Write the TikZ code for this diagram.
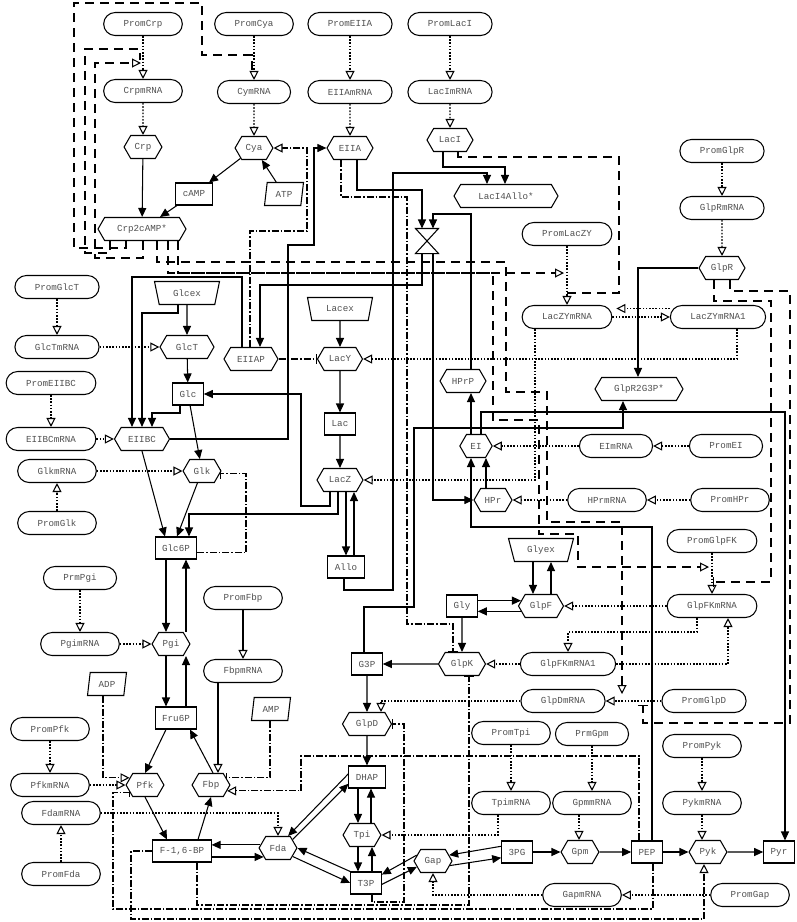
\documentclass[tikz,border=0pt]{standalone}
\usepackage{fontspec}
\newfontfamily\monof{Liberation Mono}
\usetikzlibrary{shapes.geometric,shapes.symbols,arrows.meta}
\pgfdeclarelayer{bg}
\pgfsetlayers{bg,main}
\definecolor{txt}{RGB}{80,80,80}
\begin{document}
\begin{tikzpicture}[x=1pt,y=-1pt,
  every node/.style={font=\monof\fontsize{9.2}{11}\selectfont, text=txt, line width=1.05pt, fill=white, draw=black},
  stad/.style={rectangle, rounded corners=11.5pt, minimum height=23pt, inner xsep=20pt, inner ysep=0pt},
  prot/.style={signal, signal to=east and west, signal pointer angle=120, minimum height=23pt, inner xsep=4pt, inner ysep=0pt},
  metab/.style={rectangle, minimum height=22pt, inner xsep=7pt, inner ysep=0pt},
  extr/.style={trapezium, shape border rotate=180, trapezium angle=55, trapezium stretches body, minimum height=23pt, minimum width=65pt, inner sep=0pt},
  para/.style={trapezium, trapezium left angle=66, trapezium right angle=114, trapezium stretches body, minimum height=23pt, minimum width=39pt, inner sep=0pt},
  rx/.style={line width=1.05pt, -{Triangle[length=9pt,width=8pt]}},
  ex/.style={line width=1.05pt, dash pattern=on 1.6pt off 1.6pt, -{Triangle[open,length=9pt,width=9pt,fill=white]}},
  exs/.style={line width=1.05pt, -{Triangle[open,length=9pt,width=9pt,fill=white]}},
  act/.style={line width=1.05pt, dash pattern=on 7pt off 2pt on 1.5pt off 2pt, -{Triangle[open,length=9pt,width=9pt,fill=white]}},
  inh/.style={line width=1.05pt, dash pattern=on 7pt off 2pt on 1.5pt off 2pt, -{Bar[width=10pt]}},
  rega/.style={line width=1.05pt, dash pattern=on 9pt off 6pt, -{Triangle[open,length=9pt,width=9pt,fill=white]}},
  regi/.style={line width=1.05pt, dash pattern=on 9pt off 6pt, -{Bar[width=10pt]}},
  regn/.style={line width=1.05pt, dash pattern=on 9pt off 6pt}
]
\useasboundingbox (0,0) rectangle (797,922);

% ---------- nodes: top ----------
\node[stad] (promcrp) at (143,24) {PromCrp};
\node[stad] (promcya) at (254,24) {PromCya};
\node[stad] (promeiia) at (350,24) {PromEIIA};
\node[stad] (promlaci) at (450,24) {PromLacI};
\node[stad] (crpmrna) at (143,91) {CrpmRNA};
\node[stad] (cymrna) at (254,92) {CymRNA};
\node[stad] (eiiamrna) at (350,92) {EIIAmRNA};
\node[stad] (lacimrna) at (450,92) {LacImRNA};
\node[prot] (crp) at (143,147) {Crp};
\node[prot] (cya) at (254,148) {Cya};
\node[prot, minimum width=46pt] (eiia) at (350,148) {EIIA};
\node[prot, minimum width=46pt] (laci) at (450,140) {LacI};
\node[metab] (camp) at (194,194) {cAMP};
\node[para] (atp) at (284,194) {ATP};
\node[prot, minimum width=88pt] (crpcamp) at (142,229) {Crp2cAMP*};
\node[prot, minimum width=104pt] (lacallo) at (506,196) {LacI4Allo*};
\node[stad] (promglpr) at (722,151) {PromGlpR};
\node[stad] (glprmrna) at (722,208) {GlpRmRNA};
\node[prot, minimum width=46pt] (glpr) at (722,268) {GlpR};
\node[stad] (promlaczy) at (567,234) {PromLacZY};
\node[stad] (laczymrna) at (567,317) {LacZYmRNA};
\node[stad] (laczymrna1) at (718,317) {LacZYmRNA1};
\node[prot, minimum width=88pt] (glpr2g3p) at (639,389) {GlpR2G3P*};
\node[draw=none, fill=none, minimum width=22pt, minimum height=24pt, inner sep=0pt] (hg) at (427,241) {};
\draw[line width=1.05pt, fill=white] (hg.north west) -- (hg.north east) -- (hg.south west) -- (hg.south east) -- cycle;

% ---------- nodes: left ----------
\node[stad] (promglct) at (57,287) {PromGlcT};
\node[stad] (glctmrna) at (57,347) {GlcTmRNA};
\node[stad] (promeiibc) at (51,383) {PromEIIBC};
\node[stad] (eiibcmrna) at (51,439) {EIIBCmRNA};
\node[stad] (glkmrna) at (57,471) {GlkmRNA};
\node[stad] (promglk) at (57,523) {PromGlk};
\node[stad] (prmpgi) at (80,578) {PrmPgi};
\node[stad] (pgimrna) at (80,644) {PgimRNA};
\node[stad] (prompfk) at (50,729) {PromPfk};
\node[stad] (pfkmrna) at (50,785) {PfkmRNA};
\node[stad] (fdamrna) at (61,813) {FdamRNA};
\node[stad] (promfda) at (61,874) {PromFda};

% ---------- nodes: middle ----------
\node[extr] (glcex) at (187,293) {Glcex};
\node[prot, minimum width=54pt] (glct) at (187,347) {GlcT};
\node[prot, minimum width=54pt] (eiiap) at (251,359) {EIIAP};
\node[metab] (glc) at (188,394) {Glc};
\node[prot, minimum width=55pt] (eiibc) at (142,439) {EIIBC};
\node[prot] (glk) at (202,471) {Glk};
\node[metab] (glc6p) at (176,548) {Glc6P};
\node[prot] (pgi) at (171,644) {Pgi};
\node[metab] (fru6p) at (176,718) {Fru6P};
\node[prot] (pfk) at (145,785) {Pfk};
\node[prot] (fbp) at (211,785) {Fbp};
\node[metab] (f16bp) at (182,851) {F-1,6-BP};
\node[para] (adp) at (107,684) {ADP};
\node[para] (amp) at (271,709) {AMP};
\node[stad] (promfbp) at (243,598) {PromFbp};
\node[stad] (fbpmrna) at (243,671) {FbpmRNA};
\node[extr] (lacex) at (340,309) {Lacex};
\node[prot, minimum width=45pt] (lacy) at (340,359) {LacY};
\node[metab] (lac) at (340,424) {Lac};
\node[prot, minimum width=46pt] (lacz) at (340,480) {LacZ};
\node[metab] (allo) at (346,567) {Allo};
\node[prot, minimum width=46pt] (hprp) at (463,381) {HPrP};
\node[prot, minimum width=30pt] (ei) at (476,446) {EI};
\node[prot, minimum width=38pt] (hpr) at (493,500) {HPr};
\node[stad] (eimrna) at (616,446) {EImRNA};
\node[stad] (promei) at (726,446) {PromEI};
\node[stad] (hprmrna) at (607,500) {HPrmRNA};
\node[stad] (promhpr) at (730,500) {PromHPr};
\node[extr] (glyex) at (541,550) {Glyex};
\node[stad] (promglpfk) at (712,541) {PromGlpFK};
\node[metab] (gly) at (462,606) {Gly};
\node[prot, minimum width=45pt] (glpf) at (541,606) {GlpF};
\node[stad] (glpfkmrna) at (712,606) {GlpFKmRNA};
\node[stad] (glpfkmrna1) at (568,664) {GlpFKmRNA1};
\node[metab] (g3p) at (367,664) {G3P};
\node[prot, minimum width=47pt] (glpk) at (462,664) {GlpK};
\node[stad] (glpdmrna) at (563,701) {GlpDmRNA};
\node[stad] (promglpd) at (704,701) {PromGlpD};
\node[prot, minimum width=49pt] (glpd) at (367,724) {GlpD};
\node[stad] (promtpi) at (511,733) {PromTpi};
\node[stad] (prmgpm) at (592,734) {PrmGpm};
\node[stad] (prompyk) at (702,746) {PromPyk};
\node[metab] (dhap) at (367,777) {DHAP};
\node[stad] (tpimrna) at (511,803) {TpimRNA};
\node[stad] (gpmmrna) at (592,803) {GpmmRNA};
\node[stad] (pykmrna) at (702,803) {PykmRNA};
\node[prot] (tpi) at (362,835) {Tpi};
\node[prot] (fda) at (278,848) {Fda};
\node[prot, minimum width=38pt] (gap) at (433,861) {Gap};
\node[metab] (pg3) at (517,852) {3PG};
\node[prot] (gpm) at (580,852) {Gpm};
\node[metab] (pep) at (647,852) {PEP};
\node[prot] (pyk) at (708,852) {Pyk};
\node[metab] (pyr) at (779,852) {Pyr};
\node[metab] (t3p) at (366,883) {T3P};
\node[stad] (gapmrna) at (582,895) {GapmRNA};
\node[stad] (promgap) at (750,895) {PromGap};

\begin{pgfonlayer}{bg}
% ---------- gene expression ----------
\draw[ex] (promcrp) -- (crpmrna);
\draw[ex] (crpmrna) -- (crp);
\draw[ex] (promcya) -- (cymrna);
\draw[ex] (cymrna) -- (cya);
\draw[ex] (promeiia) -- (eiiamrna);
\draw[ex] (eiiamrna) -- (eiia);
\draw[ex] (promlaci) -- (lacimrna);
\draw[ex] (lacimrna) -- (laci);
\draw[ex] (promglpr) -- (glprmrna);
\draw[ex] (glprmrna) -- (glpr);
\draw[ex] (promlaczy) -- (laczymrna);
\draw[ex] (promglct) -- (glctmrna);
\draw[ex] (glctmrna) -- (glct);
\draw[ex] (promeiibc) -- (eiibcmrna);
\draw[ex] (eiibcmrna) -- (eiibc);
\draw[ex] (promglk) -- (glkmrna);
\draw[ex] (glkmrna) -- (glk);
\draw[ex] (prmpgi) -- (pgimrna);
\draw[ex] (pgimrna) -- (pgi);
\draw[ex] (prompfk) -- (pfkmrna);
\draw[ex] (pfkmrna) -- (pfk);
\draw[ex] (promfda) -- (fdamrna);
\draw[ex] (promei) -- (eimrna);
\draw[ex] (eimrna) -- (ei);
\draw[ex] (promhpr) -- (hprmrna);
\draw[ex] (hprmrna) -- (hpr);
\draw[ex] (promglpfk) -- (glpfkmrna);
\draw[ex] (glpfkmrna) -- (glpf);
\draw[ex] (glpfkmrna1) -- (glpk);
\draw[ex] (promglpd) -- (glpdmrna);
\draw[ex] (promtpi) -- (tpimrna);
\draw[ex] (prmgpm) -- (gpmmrna);
\draw[ex] (579,0 |- gpmmrna.south) -- (579,0 |- gpm.north);
\draw[ex] (prompyk) -- (pykmrna);
\draw[ex] (702,0 |- pykmrna.south) -- (702,0 |- pyk.north);
\draw[ex] (promgap) -- (gapmrna);
\draw[ex] (fdamrna.east) -- (fda.north |- fdamrna.east) -- (fda.north);
\draw[ex] (697,0 |- glpfkmrna.south) -- (697,632) -- (568,632) -- (glpfkmrna1.north);
\draw[ex] (glpfkmrna1.east) -- (728,0 |- glpfkmrna1.east) -- (728,0 |- glpfkmrna.south);
\draw[ex] (laczymrna.east) -- (laczymrna1.west);
\draw[ex, shorten >=4pt] (laczymrna1.170) -- (laczymrna.east |- laczymrna1.170);
\draw[ex] (737,0 |- laczymrna1.south) -- (737,0 |- lacy.east) -- (lacy.east);
\draw[ex] (535,0 |- laczymrna.south) -- (535,0 |- lacz.east) -- (lacz.east);
\draw[ex] (498,0 |- tpimrna.south) -- (498,0 |- tpi.east) -- (tpi.east);
\draw[ex] (gapmrna.west) -- (gap.south |- gapmrna.west) -- (gap.south);
\draw[ex] (glpdmrna.west) -- (381,0 |- glpdmrna.west) -- (381,0 |- glpd.north);
\draw[exs] (promfbp) -- (fbpmrna);
\draw[exs] (218,0 |- fbpmrna.south) -- (218,0 |- fbp.north);

% ---------- reactions ----------
\draw[rx] (crp) -- (crpcamp);
\draw[rx] (cya) -- (camp);
\draw[rx] (atp) -- (cya);
\draw[rx] (camp) -- (160,0 |- crpcamp.north);
\draw[rx] (glcex) -- (glct);
\draw[rx] (glct) -- (glc);
\draw[rx] (glc) -- (glk);
\draw[rx] (178,0 |- glcex.south) -- (178,313) -- (142,313) -- (142,0 |- eiibc.north);
\draw[rx] (180,0 |- glc.south) -- (180,413) -- (152,413) -- (152,0 |- eiibc.north);
\draw[rx] (242,0 |- eiiap.north) -- (242,277) -- (132,277) -- (132,0 |- eiibc.north);
\draw[rx] (eiibc.east) -- (288,0 |- eiibc.east) -- (288,245) -- (314,245) -- (314,0 |- eiia.west) -- (eiia.west);
\draw[rx] (eiibc.south) -- (165,0 |- glc6p.north);
\draw[rx] (glk) -- (177,0 |- glc6p.north);
\draw[rx] (338,0 |- lacz.south) -- (338,514) -- (189,514) -- (189,0 |- glc6p.north);
\draw[rx] (330,0 |- lacz.south) -- (330,506) -- (301,506) -- (301,0 |- glc.east) -- (glc.east);
\draw[rx] (166,0 |- glc6p.south) -- (166,0 |- pgi.north);
\draw[rx] (186,0 |- pgi.north) -- (186,0 |- glc6p.south);
\draw[rx] (166,0 |- pgi.south) -- (166,0 |- fru6p.north);
\draw[rx] (186,0 |- fru6p.north) -- (186,0 |- pgi.south);
\draw[rx] (166,0 |- fru6p.south) -- (pfk.north);
\draw[rx] (213,0 |- fbp.north) -- (190,0 |- fru6p.south);
\draw[rx] (pfk.south) -- (167,0 |- f16bp.north);
\draw[rx] (198,0 |- f16bp.north) -- (fbp.south);
\draw[rx] (fda.170) -- (f16bp.east |- fda.170);
\draw[rx] (f16bp.east |- fda.212) -- (fda.212);
\draw[rx] (dhap.170) -- (fda.50);
\draw[rx] (fda.30) -- (dhap.200);
\draw[rx] (t3p.north west) -- (fda.east);
\draw[rx] (fda.330) -- (t3p.west);
\draw[rx] (358,0 |- dhap.south) -- (358,0 |- tpi.north);
\draw[rx] (371,0 |- tpi.north) -- (371,0 |- dhap.south);
\draw[rx] (358,0 |- tpi.south) -- (358,0 |- t3p.north);
\draw[rx] (372,0 |- t3p.north) -- (372,0 |- tpi.south);
\draw[rx] (gap.160) -- (t3p.28);
\draw[rx] (t3p.355) -- (gap.200);
\draw[rx] (pg3.160) -- (gap.20);
\draw[rx] (gap.345) -- (pg3.200);
\draw[rx] (pg3) -- (gpm);
\draw[rx] (gpm) -- (pep);
\draw[rx] (pep) -- (pyk);
\draw[rx] (pyk) -- (pyr);
\draw[rx] (g3p) -- (glpd);
\draw[rx] (glpd) -- (dhap);
\draw[rx] (glpk) -- (g3p);
\draw[rx] (gly) -- (glpk);
\draw[rx] (gly.east |- glpf.165) -- (glpf.165);
\draw[rx] (glpf.195) -- (gly.east |- glpf.195);
\draw[rx] (533,0 |- glyex.south) -- (533,0 |- glpf.north);
\draw[rx] (551,0 |- glpf.north) -- (551,0 |- glyex.south);
\draw[rx] (lacex) -- (lacy);
\draw[rx] (lacy) -- (lac);
\draw[rx] (lac) -- (lacz);
\draw[rx] (346,0 |- lacz.south) -- (346,0 |- allo.north);
\draw[rx] (354,0 |- allo.north) -- (354,0 |- lacz.south);
\draw[rx] (344,0 |- allo.south) -- (344,590) -- (393,590) -- (393,173) -- (487,173) -- (487,0 |- lacallo.north);
\draw[rx] (443,0 |- laci.south) -- (443,167) -- (505,167) -- (505,0 |- lacallo.north);
\draw[rx] (357,0 |- eiia.south) -- (357,190) -- (422,190) -- (422,0 |- hg.north);
\draw[rx] (471,0 |- hprp.north) -- (471,214) -- (433,214) -- (433,0 |- hg.north);
\draw[rx] (422,0 |- hg.south) -- (422,285) -- (260,285) -- (260,0 |- eiiap.north);
\draw[rx] (433,0 |- hg.south) -- (433,0 |- hpr.west) -- (hpr.west);
\draw[rx] (471,0 |- ei.north) -- (471,0 |- hprp.south);
\draw[rx] (481,0 |- ei.north) -- (481,412) -- (785,412) -- (785,0 |- pyr.north);
\draw[rx] (486,0 |- hpr.north) -- (486,0 |- ei.south);
\draw[rx] (652,0 |- pep.north) -- (652,527) -- (471,527) -- (471,0 |- ei.south);
\draw[rx] (glpr.west) -- (638,0 |- glpr.west) -- (638,0 |- glpr2g3p.north);
\draw[rx] (364,0 |- g3p.north) -- (364,607) -- (414,607) -- (414,428) -- (623,428) -- (623,0 |- glpr2g3p.south);

% ---------- modifiers (dash-dot) ----------
\draw[act] (250,0 |- eiiap.north) -- (250,231) -- (307,231) -- (307,0 |- cya.east) -- (cya.east);
\draw[inh] (eiiap.east) -- (lacy.west);
\draw[inh] (341,0 |- eiia.south) -- (341,197) -- (407,197) -- (407,624) -- (453,624) -- (453,0 |- glpk.north);
\draw[inh] (glc6p.347) -- (246,0 |- glc6p.347) -- (246,0 |- glk.352) -- (glk.352);
\draw[act] (103,0 |- adp.south) -- (103,0 |- pfk.155) -- (pfk.155);
\draw[inh] (270,0 |- amp.south) -- (270,0 |- fbp.25) -- (fbp.25);
\draw[act] (639,0 |- pep.north) -- (639,756) -- (301,756) -- (301,0 |- fbp.340) -- (fbp.340);
\draw[inh] (653,0 |- pep.south) -- (653,909) -- (113,909) -- (113,0 |- pfk.205) -- (pfk.205);
\draw[act] (f16bp.west) -- (131,0 |- f16bp.west) -- (131,919) -- (704,919) -- (704,0 |- pyk.south);
\draw[inh] (197,0 |- f16bp.south) -- (197,905) -- (469,905) -- (469,0 |- glpk.south);
\draw[inh] (372,0 |- t3p.south) -- (372,902) -- (404,902) -- (404,0 |- glpd.east) -- (glpd.east);

% ---------- regulation (dashed) ----------
\draw[regn] (126,0 |- crpcamp.south) -- (126,248) -- (74,248) -- (74,3) -- (202,3) -- (202,55) -- (252,55) -- (252,70);
\draw[regn] (110,0 |- crpcamp.south) -- (110,253) -- (85,253) -- (85,49) -- (140,49) -- (140,60);
\draw[rega] (143,0 |- crpcamp.south) -- (143,258) -- (95,258) -- (95,63) -- (141,63);
\draw[rega] (157,0 |- crpcamp.south) -- (157,262) -- (506,262) -- (506,392) -- (547,392) -- (547,522) -- (622,522) -- (622,694);
\draw[rega] (168,0 |- crpcamp.south) -- (168,273) -- (493,273) -- (493,420) -- (539,420) -- (539,534) -- (578,534) -- (578,567) -- (709,567);
\draw[rega] (178,0 |- crpcamp.south) -- (178,273) -- (564,273);
\draw[regn] (458,0 |- laci.south) -- (458,157) -- (619,157) -- (619,293) -- (567,293);
\draw[regi] (714,0 |- glpr.south) -- (714,301) -- (771,301) -- (771,582) -- (713,582);
\draw[regi] (730,0 |- glpr.south) -- (730,291) -- (790,291) -- (790,723) -- (643,723) -- (643,705);
\end{pgfonlayer}
\end{tikzpicture}
\end{document}
